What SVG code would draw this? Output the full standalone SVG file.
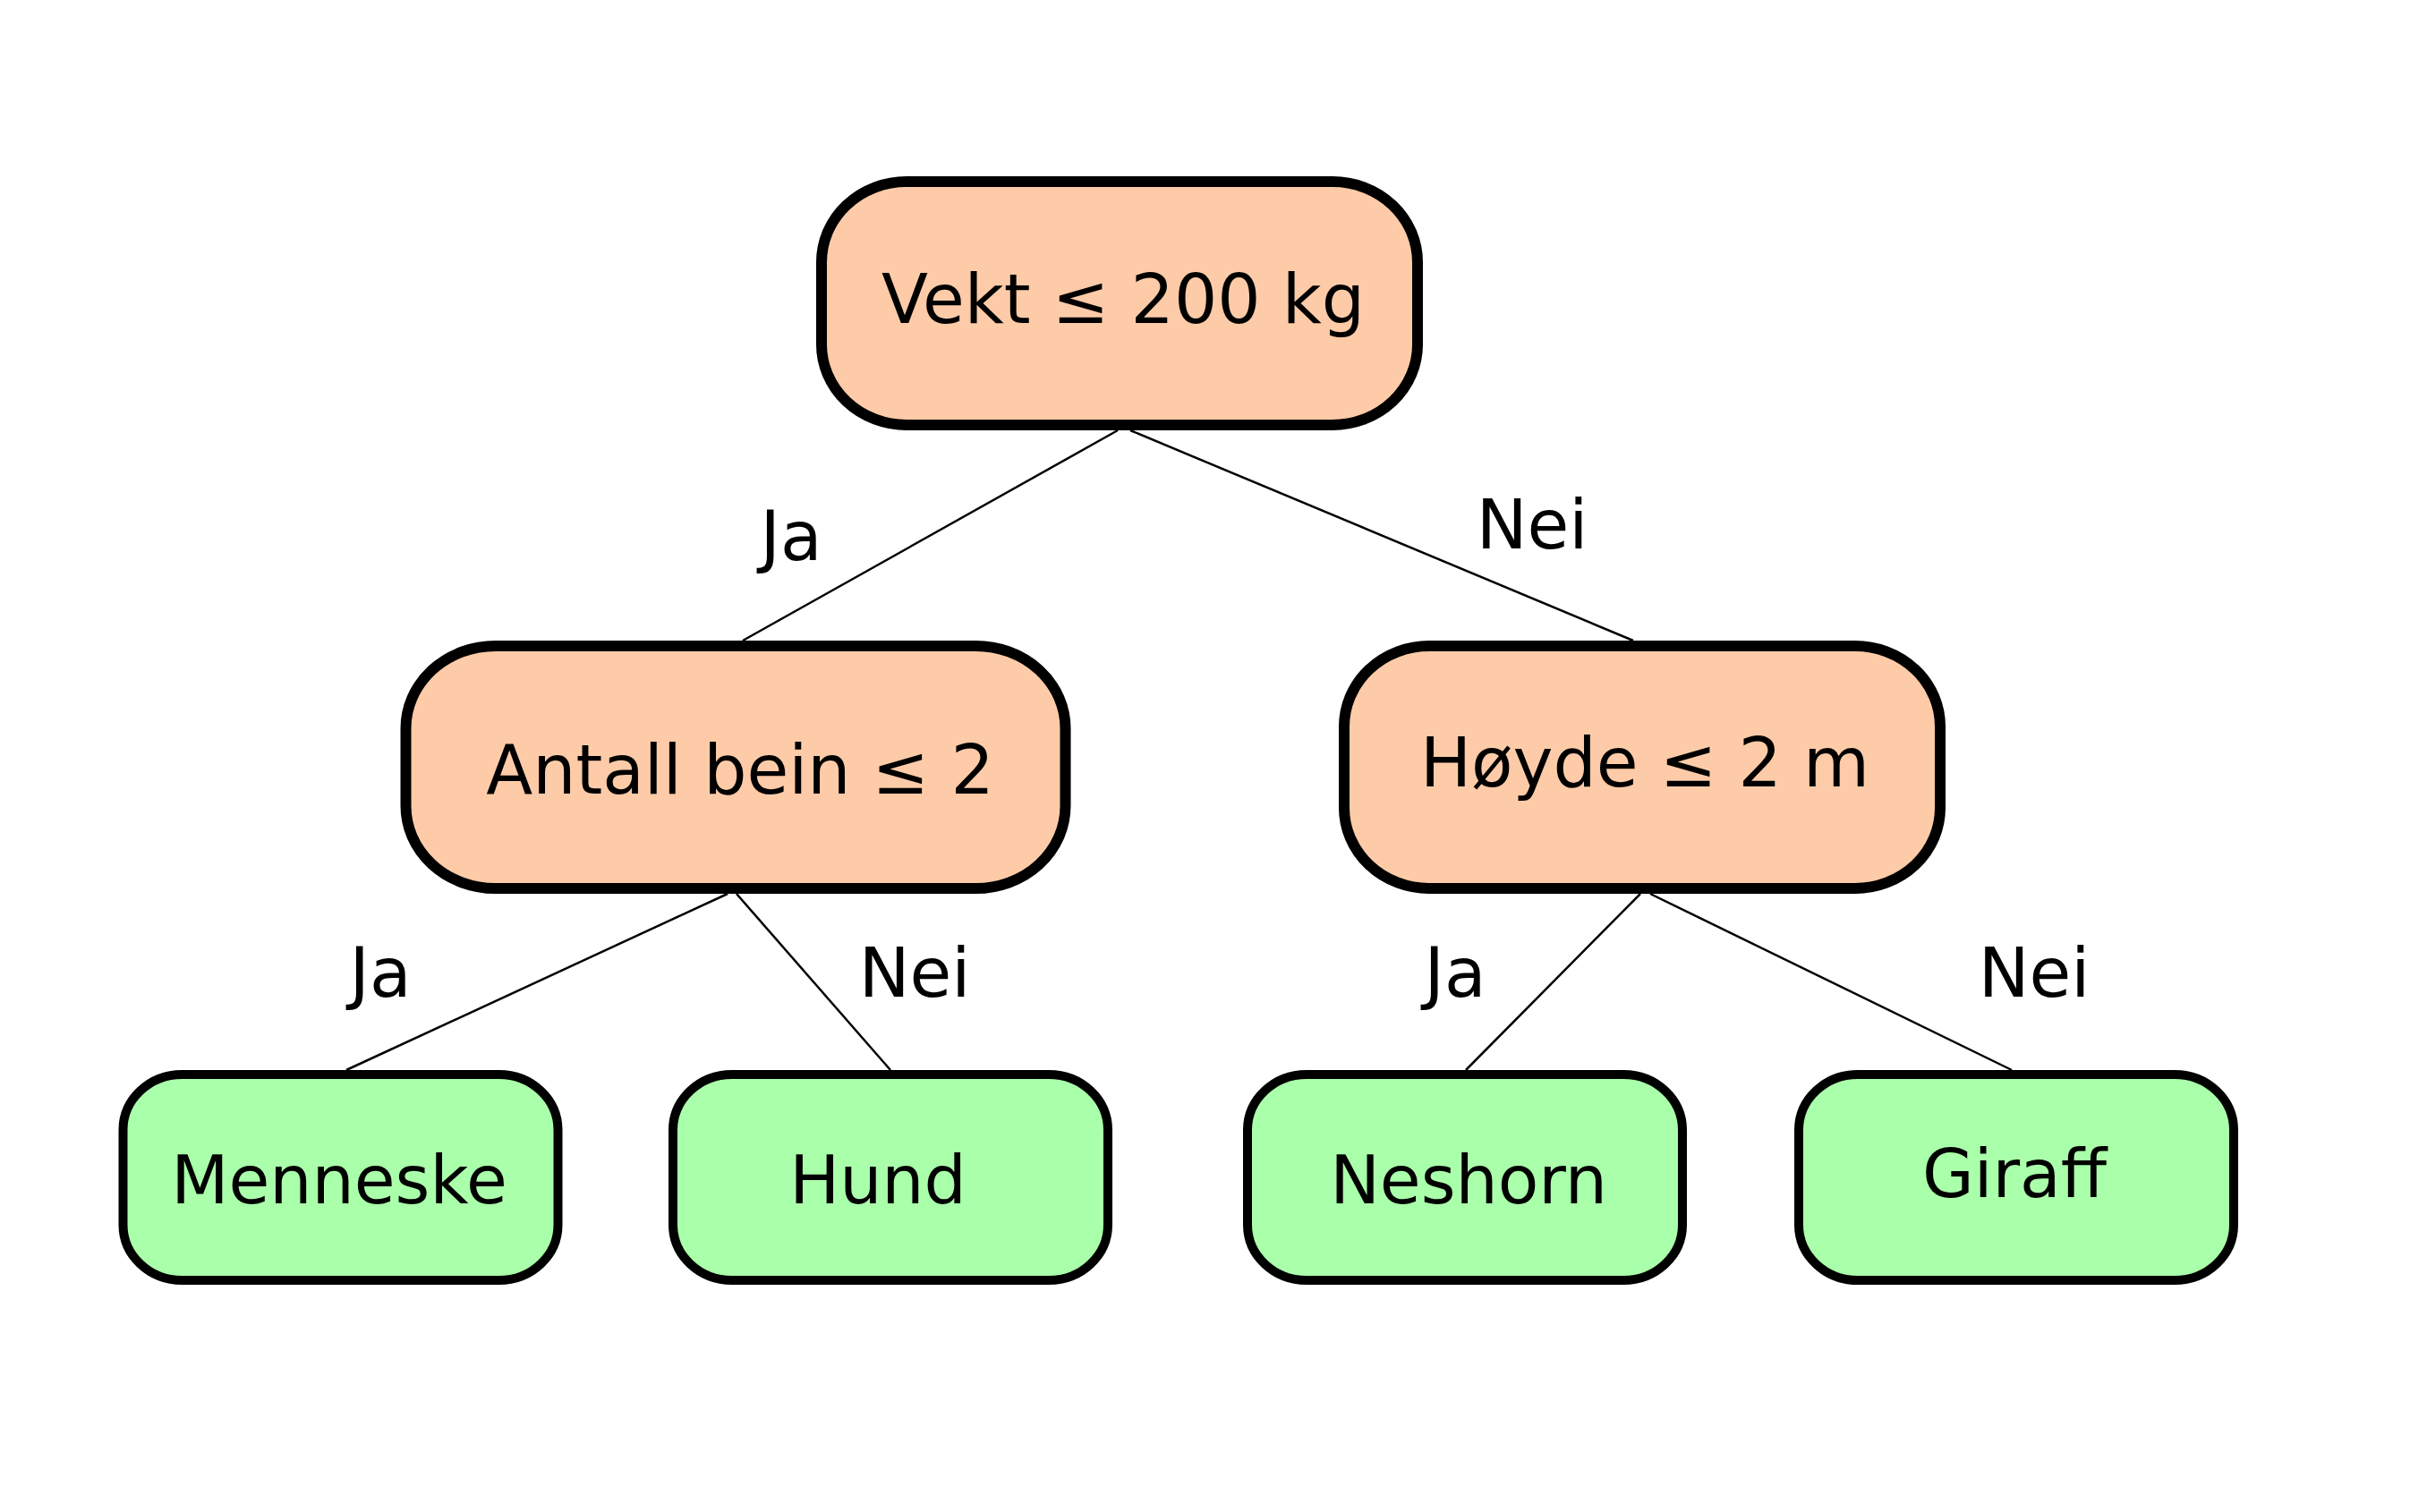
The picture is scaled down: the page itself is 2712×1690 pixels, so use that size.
<svg xmlns="http://www.w3.org/2000/svg" width="2712" height="1690" viewBox="0 0 2712 1690">
<style>
  .dec { fill: #FDCBA8; stroke: #000; stroke-width: 12; }
  .leaf { fill: #AAFFAA; stroke: #000; stroke-width: 10; }
  .lbl { font-family: "DejaVu Sans", Verdana, sans-serif; font-size: 76px; fill: #000; text-anchor: middle; }
  .lt { font-size: 74.5px; }
  .edge { stroke: #000; stroke-width: 2.5; fill: none; }
</style>
<rect width="2712" height="1690" fill="#fff"/>
<g id="connectors">
  <line class="edge" x1="1249" y1="481" x2="830" y2="716"/>
  <line class="edge" x1="1263" y1="481" x2="1825" y2="716"/>
  <line class="edge" x1="813" y1="999" x2="387" y2="1196"/>
  <line class="edge" x1="823" y1="999" x2="995" y2="1196"/>
  <line class="edge" x1="1833" y1="999" x2="1638" y2="1196"/>
  <line class="edge" x1="1844" y1="999" x2="2248" y2="1196"/>
  <text class="lbl" x="884" y="626">Ja</text>
  <text class="lbl" x="1712" y="613">Nei</text>
  <text class="lbl" x="425" y="1114">Ja</text>
  <text class="lbl" x="1022" y="1114">Nei</text>
  <text class="lbl" x="1626" y="1114">Ja</text>
  <text class="lbl" x="2273" y="1114">Nei</text>
</g>
<g id="root">
  <rect class="dec" x="918" y="203" width="666" height="272" rx="95" ry="90"/>
  <text class="lbl" x="1255" y="361">Vekt ≤ 200 kg</text>
</g>
<g id="antall">
  <rect class="dec" x="453.5" y="722" width="737" height="271" rx="100" ry="92"/>
  <text class="lbl" x="827" y="887">Antall bein ≤ 2</text>
</g>
<g id="hoyde">
  <rect class="dec" x="1502" y="722" width="666" height="271" rx="95" ry="90"/>
  <text class="lbl" x="1838" y="879">Høyde ≤ 2 m</text>
</g>
<g id="menneske">
  <rect class="leaf" x="137.5" y="1201" width="486" height="230" rx="66" ry="62"/>
  <text class="lbl lt" x="379" y="1345">Menneske</text>
</g>
<g id="hund">
  <rect class="leaf" x="752" y="1201" width="486" height="230" rx="66" ry="62"/>
  <text class="lbl lt" x="981" y="1345">Hund</text>
</g>
<g id="neshorn">
  <rect class="leaf" x="1394" y="1201" width="486" height="230" rx="66" ry="62"/>
  <text class="lbl lt" x="1641" y="1345">Neshorn</text>
</g>
<g id="giraff">
  <rect class="leaf" x="2010" y="1201" width="486" height="230" rx="66" ry="62"/>
  <text class="lbl lt" x="2251" y="1338">Giraff</text>
</g>
</svg>
